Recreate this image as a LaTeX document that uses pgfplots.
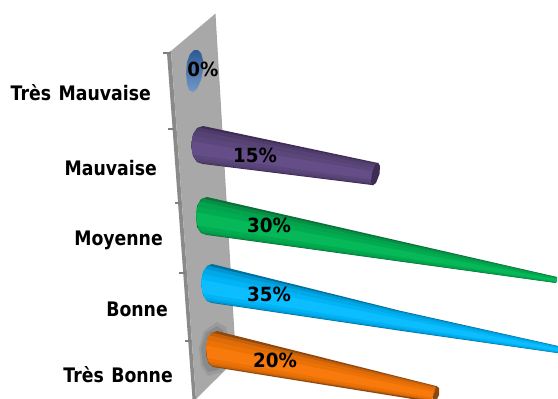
\documentclass[border=0pt]{standalone}
\usepackage{fontspec}
\usepackage{pgfplots}
\pgfplotsset{compat=1.18}
\newfontfamily\labf[FakeStretch=0.865]{DejaVu Sans Bold}
\newfontfamily\valf[FakeStretch=0.94]{DejaVu Sans Bold}
\newcommand{\lab}{\fontsize{20}{24}\labf\spaceskip=7.5pt\relax}
\newcommand{\val}{\fontsize{19.5}{22}\valf}

% wall
\definecolor{wall}{HTML}{A8A8A8}
\definecolor{wallside}{HTML}{8A8A8A}
\definecolor{discl}{HTML}{2D5A94}
\definecolor{discr}{HTML}{7398C8}
% cone layers, edge to highlight
\definecolor{pa}{HTML}{3E2C54}\definecolor{pb}{HTML}{4F3B6B}\definecolor{pc}{HTML}{574274}\definecolor{pd}{HTML}{5C477C}\definecolor{pe}{HTML}{654E88}
\definecolor{ga}{HTML}{0A7038}\definecolor{gb}{HTML}{069046}\definecolor{gc}{HTML}{03A24C}\definecolor{gd}{HTML}{01AC50}\definecolor{ge}{HTML}{06B858}
\definecolor{ba}{HTML}{00709F}\definecolor{bb}{HTML}{0096D2}\definecolor{bc}{HTML}{00A8E8}\definecolor{bd}{HTML}{00B4F6}\definecolor{be}{HTML}{0CBEFF}
\definecolor{oa}{HTML}{8E480C}\definecolor{ob}{HTML}{C4600A}\definecolor{oc}{HTML}{DE6C08}\definecolor{od}{HTML}{EC7206}\definecolor{oe}{HTML}{F87A0C}

\newcommand{\poly}[2]{\addplot[fill=#1,draw=none] coordinates {#2};}

\begin{document}
\begin{tikzpicture}
\begin{axis}[
  scale only axis, width=558pt, height=399pt,
  xmin=0, xmax=558, ymin=0, ymax=399, y dir=reverse,
  axis lines=none, clip=true,
]
\poly{white}{(0,0)(558,0)(558,399)(0,399)}
% wall
\poly{wallside}{(167,53)(171,51)(196,399)(192.5,399)}
\poly{wall}{(171,51)(215,14)(235.5,360)(196,399)}
\addplot[color=gray!70,line width=1pt] coordinates {(215,14)(235.5,360)};
% ticks
\addplot[color=gray,line width=1.3pt] coordinates {(163,53)(170,53)};
\addplot[color=gray,line width=1.3pt] coordinates {(168,129)(174,129)};
\addplot[color=gray,line width=1.3pt] coordinates {(175,203)(181,203)};
\addplot[color=gray,line width=1.3pt] coordinates {(179,273)(186,273)};
\addplot[color=gray,line width=1.3pt] coordinates {(185,341)(191,341)};
% shadow round the last base
\addplot[fill=black,fill opacity=0.08,draw=none] coordinates {(217,322)(226,327)(229,340)(228,360)(222,372)(208,376)(201,366)(199,348)(204,331)};
\addplot[fill=black,fill opacity=0.1,draw=none] coordinates {(217,326)(223,330)(226,342)(224,360)(218,370)(208,372)(203,364)(201,348)(206,333)};
% 0%
\addplot[draw=none,left color=discl,right color=discr,shading angle=0] coordinates {(198,50)(201,53)(203,60)(203,70)(201,80)(197,89)(193,92)(189,90)(187,84)(186,73)(187,62)(190,54)(194,50)};
% 15%
\poly{pa}{(203,126)(378,163)(372,185)(203,164)(197,162)(193,156)(191,146)(193,135)(197,128)}
\poly{pb}{(198.3,127.5)(377.8,163.9)(372.2,184.3)(198.9,162.9)(193.4,156.4)(191.2,145)(193.4,133.6)}
\poly{pc}{(195.2,130.6)(377.3,165.6)(372.5,183.2)(196.5,161)(193.4,156.4)(191.5,145)(193.4,133.6)}
\poly{pd}{(192.6,135.5)(376.5,168.5)(372.9,181.7)(194.4,158.3)(191.5,145)}
\poly{pe}{(191.2,141.2)(375.6,171.8)(373.5,179.5)(192.6,154.5)}
\poly{pa}{(378,162.5)(380,166)(379.5,174)(376,183)(372.5,185.5)(371,182)(372,173)(375,165)}
% 30%
\poly{ga}{(207,197)(557,277)(556,283)(207,235)(201,233)(197,227)(196,216)(197,206)(201,199)}
\poly{gb}{(202.7,198.5)(557,277.2)(556,282.8)(203.2,233.9)(198.2,227.4)(196,216)(198.2,204.6)}
\poly{gc}{(199.9,201.6)(557,277.7)(556,282.5)(201,232)(198.2,227.4)(196.2,216)(198.2,204.6)}
\poly{gd}{(197.5,206.5)(557,278.5)(556,282.1)(199.1,229.3)(196.2,216)}
\poly{ge}{(196.2,212.2)(557,279.4)(556,281.5)(197.5,225.5)}
% 35%
\poly{ba}{(212,264)(400,310.7)(560,346.4)(560,353.4)(400,330.7)(212,303)(207,301)(203,294)(201,283.5)(203,273)(207,266)}
\poly{bb}{(207.7,265.6)(400,311.5)(560,346.7)(560,353.2)(400,330.1)(208.2,301.8)(203.2,295.2)(201,283.5)(203.2,271.8)}
\poly{bc}{(204.9,268.7)(400,313.1)(560,347.2)(560,352.8)(400,329.1)(206,299.9)(203.2,295.2)(201.2,283.5)(203.2,271.8)}
\poly{bd}{(202.5,273.8)(400,315.7)(560,347.8)(560,352)(400,327.7)(204.1,297.2)(201.2,283.5)}
\poly{be}{(201.2,279.6)(400,318.7)(560,348.8)(560,351.3)(400,325.7)(202.5,293.3)}
% 20%
\poly{oa}{(217,331)(436,386)(431,402)(213,367)(209,364)(206.5,357)(206,348)(208,339)(212,333)}
\poly{ob}{(211.5,332.4)(435.8,386.6)(431.2,400.6)(211.9,365.9)(207.8,361)(206.2,349)(207.8,337.9)}
\poly{oc}{(209.2,335.3)(435.4,387.8)(431.4,399.8)(210.1,364.1)(207.8,360)(206.4,349)(207.8,338)}
\poly{od}{(207.2,340)(434.8,389.8)(431.8,398.8)(208.6,361.6)(206.4,349)}
\poly{oe}{(206.2,345.4)(434,392)(432.3,397.3)(207.2,358)}
\poly{oa}{(436,385.5)(439,388)(439,395)(436,401)(432,402)(433,396)(435,390)}
% category labels
\node[anchor=east,inner sep=0pt] at (axis cs:151,93) {\lab Très Mauvaise};
\node[anchor=east,inner sep=0pt] at (axis cs:157,168) {\lab Mauvaise};
\node[anchor=east,inner sep=0pt] at (axis cs:163,240) {\lab Moyenne};
\node[anchor=east,inner sep=0pt] at (axis cs:168,309) {\lab Bonne};
\node[anchor=east,inner sep=0pt] at (axis cs:173,375) {\lab Très Bonne};
% value labels
\node[inner sep=0pt] at (axis cs:203,69) {\val 0\%};
\node[inner sep=0pt] at (axis cs:255,155) {\val 15\%};
\node[inner sep=0pt] at (axis cs:269,225) {\val 30\%};
\node[inner sep=0pt] at (axis cs:269,294) {\val 35\%};
\node[inner sep=0pt] at (axis cs:275,360) {\val 20\%};
\end{axis}
\end{tikzpicture}
\end{document}
